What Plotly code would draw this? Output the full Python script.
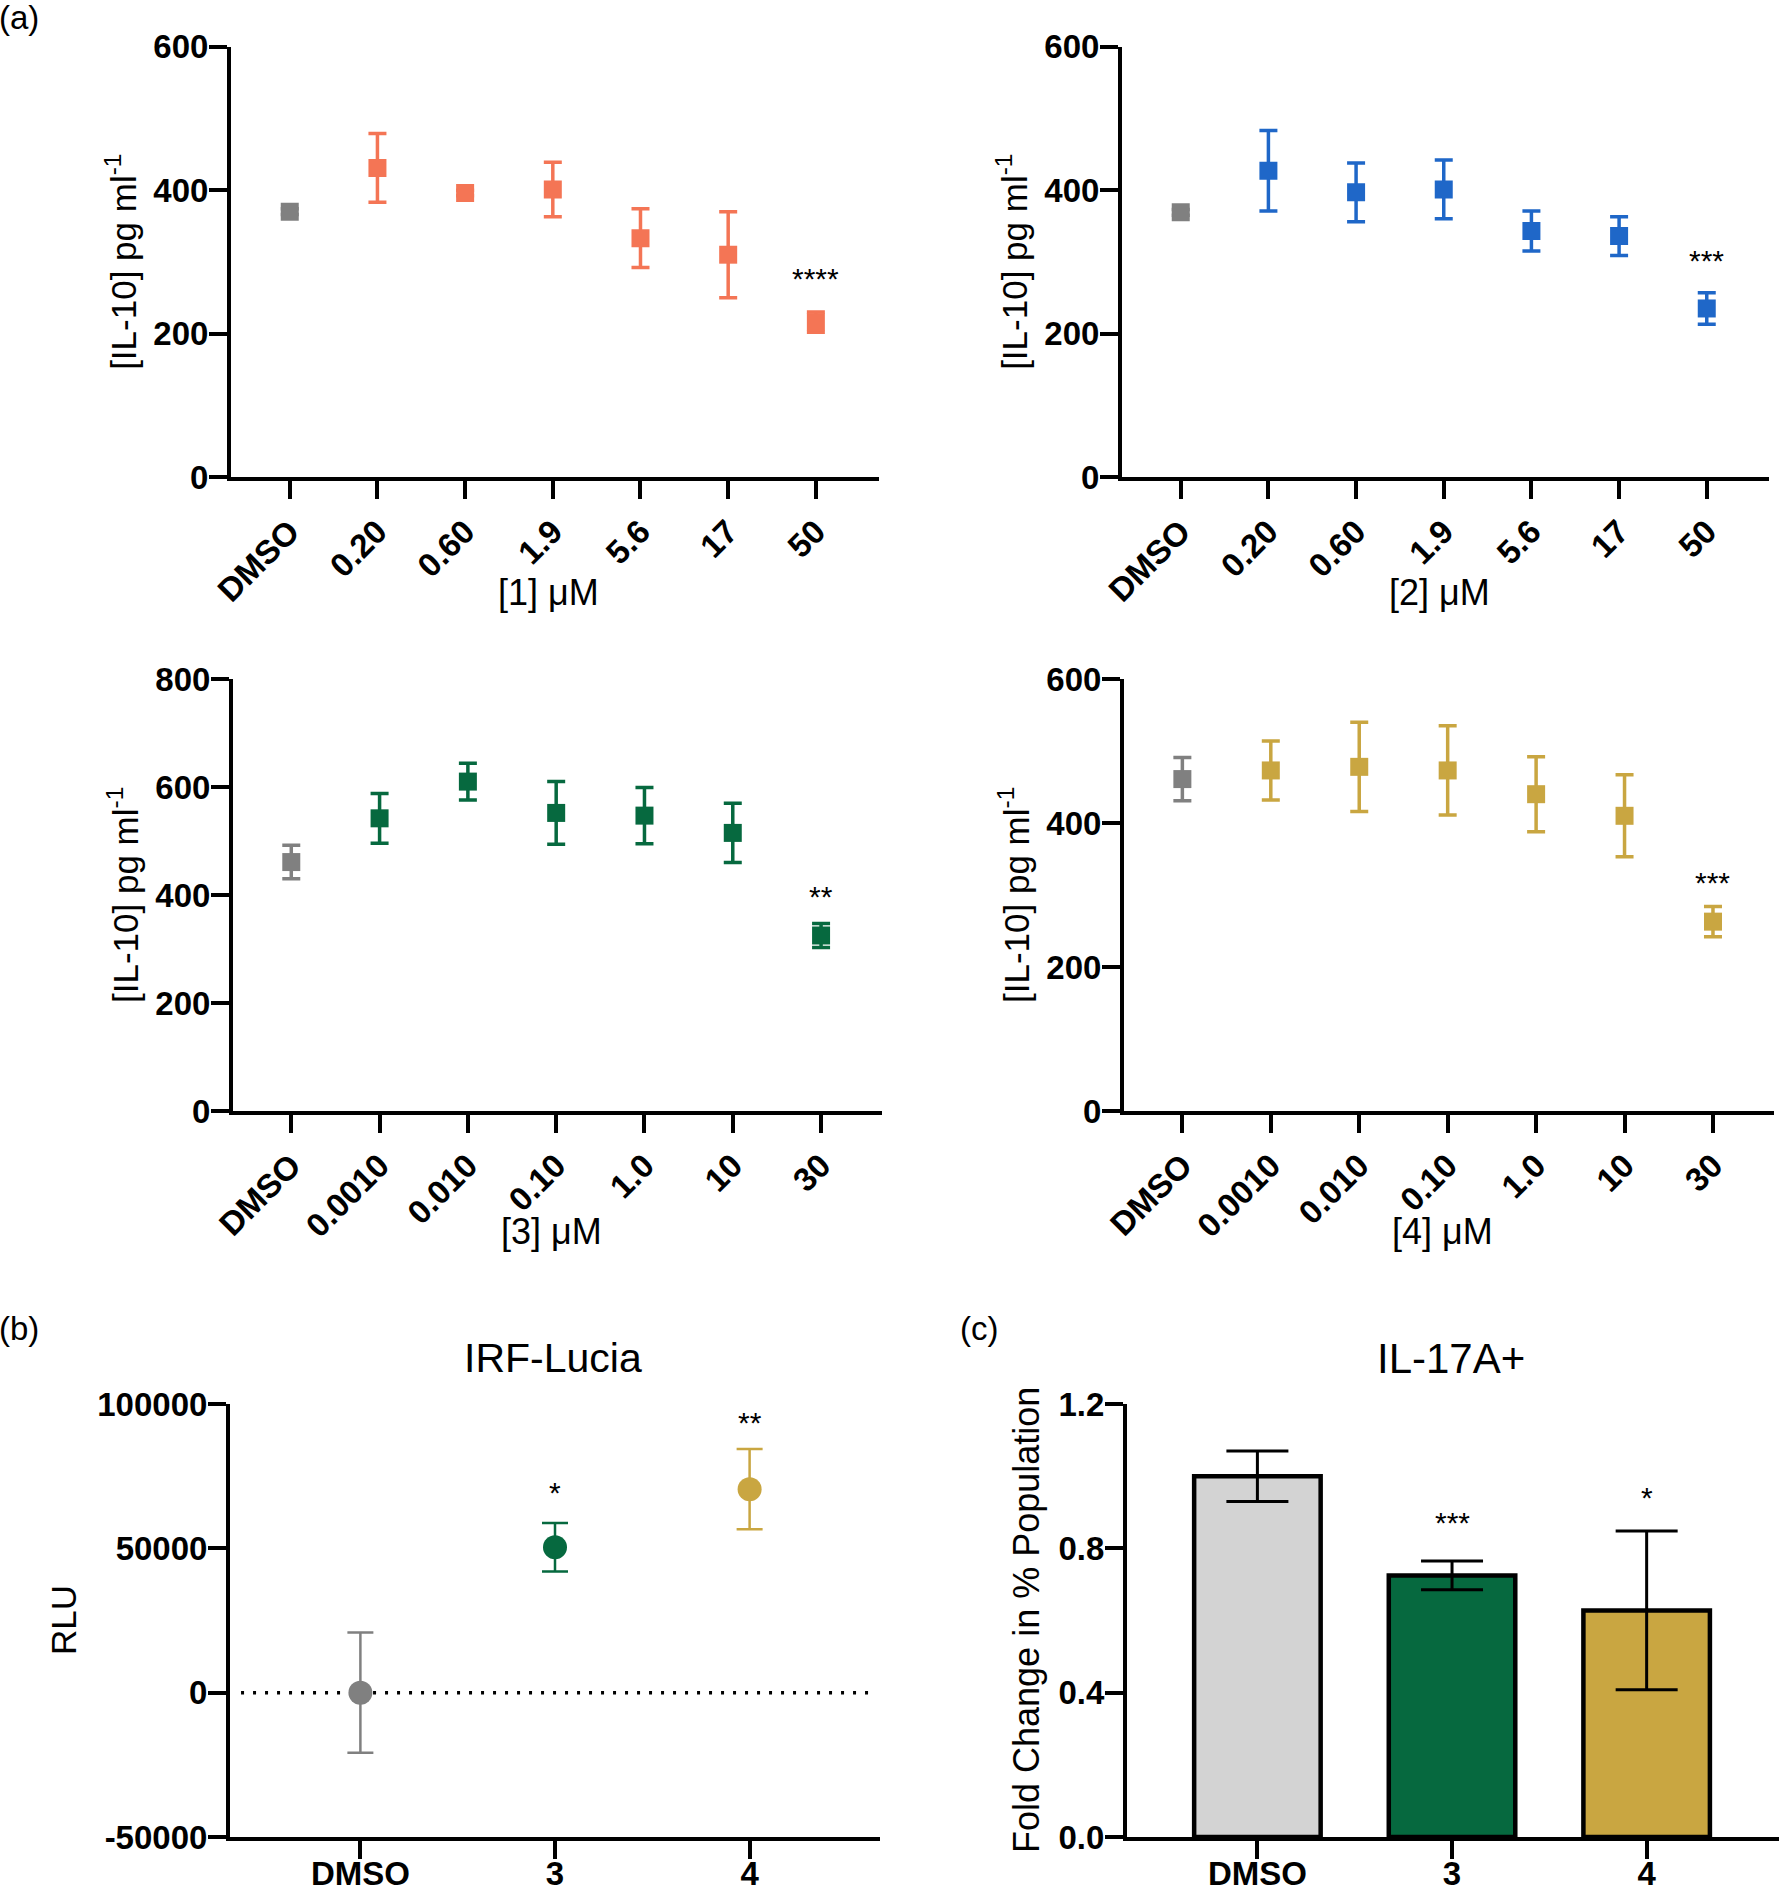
import plotly.graph_objects as go

# ---------------- data ----------------
conc_12 = ["DMSO", "0.20", "0.60", "1.9", "5.6", "17", "50"]
conc_34 = ["DMSO", "0.0010", "0.010", "0.10", "1.0", "10", "30"]

il10_c1 = [370, 431, 396, 401, 333, 310, 216]
il10_c1_err = [4, 48, 4, 38, 41, 60, 14]
il10_c2 = [369, 427, 397, 401, 343, 336, 235]
il10_c2_err = [4, 56, 41, 41, 28, 27, 22]
il10_c3 = [461, 542, 610, 552, 547, 515, 325]
il10_c3_err = [31, 46, 34, 58, 52, 55, 22]
il10_c4 = [461, 473, 478, 473, 440, 410, 263]
il10_c4_err = [30, 41, 62, 62, 52, 57, 21]

sig_a = ["****", "***", "**", "***"]
sig_a_y = [277, 302, 397, 318]

irf_groups = ["DMSO", "3", "4"]
irf_rlu = [0, 50400, 70500]
irf_err = [20800, 8400, 13900]
irf_sig = ["", "*", "**"]
irf_sig_y = [None, 69500, 93500]

il17_groups = ["DMSO", "3", "4"]
il17_fold = [1.0, 0.725, 0.628]
il17_err = [0.07, 0.04, 0.22]
il17_sig = ["", "***", "*"]
il17_sig_y = [None, 0.872, 0.94]

# ---------------- style ----------------
GRAY = "#808080"
CORAL = "#F47555"
BLUE = "#1F67C8"
GREEN = "#06693F"
GOLD = "#C9A641"
LIGHT = "#D3D3D3"
FONT = "Liberation Sans, Arial, sans-serif"

W, H = 1779, 1891


def px_x(p):
    return p / W


def px_y(p):
    return 1 - p / H


fig = go.Figure()

panels_a = [
    (conc_12, il10_c1, il10_c1_err, CORAL, "[1] μM", (231, 879), (46.7, 477), 600, (-0.67, 6.72)),
    (conc_12, il10_c2, il10_c2_err, BLUE, "[2] μM", (1122, 1769), (46.7, 477), 600, (-0.67, 6.71)),
    (conc_34, il10_c3, il10_c3_err, GREEN, "[3] μM", (233, 882), (679, 1111), 800, (-0.66, 6.69)),
    (conc_34, il10_c4, il10_c4_err, GOLD, "[4] μM", (1124, 1774), (679, 1111), 600, (-0.66, 6.69)),
]

axis_common = dict(
    showline=True, linecolor="black", linewidth=4, ticks="outside",
    ticklen=18, tickwidth=4, tickcolor="black", showgrid=False, zeroline=False,
    automargin=False,
    tickfont=dict(family=FONT, size=33, color="black", weight="bold"),
)
yaxis_extra = dict(ticklabelstandoff=-6)


def paper_note(text, x, y, size, angle=0):
    return dict(text=text, xref="paper", yref="paper", x=px_x(x), y=px_y(y),
                textangle=angle, showarrow=False, xanchor="center", yanchor="middle",
                font=dict(family=FONT, size=size, color="black"))


annotations = []
for i, (cats, vals, errs, col, xt, (x0, x1), (yt, yb), ymax, xr) in enumerate(panels_a):
    n = i + 1
    xa = "x" if n == 1 else f"x{n}"
    ya = "y" if n == 1 else f"y{n}"
    fig.add_trace(go.Scatter(
        x=cats[:1], y=vals[:1], xaxis=xa, yaxis=ya, mode="markers",
        marker=dict(symbol="square", size=18, color=GRAY),
        error_y=dict(type="data", array=errs[:1], color=GRAY, thickness=3.5, width=9),
        showlegend=False))
    fig.add_trace(go.Scatter(
        x=cats[1:], y=vals[1:], xaxis=xa, yaxis=ya, mode="markers",
        marker=dict(symbol="square", size=18, color=col),
        error_y=dict(type="data", array=errs[1:], color=col, thickness=3.5, width=9),
        showlegend=False))
    fig.layout[f"xaxis{'' if n == 1 else n}"] = dict(
        axis_common, domain=[px_x(x0), px_x(x1)], anchor=ya, type="category",
        range=list(xr), tickangle=-45)
    fig.layout[f"yaxis{'' if n == 1 else n}"] = dict(
        axis_common, **yaxis_extra, domain=[px_y(yb), px_y(yt)], anchor=xa,
        range=[0, ymax], dtick=200, tick0=0)
    annotations.append(paper_note("[IL-10] pg ml<sup>-1</sup>", x0 - 110, (yt + yb) / 2, 35, -90))
    annotations.append(paper_note(xt, x0 + 0.49 * (x1 - x0), yb + (116 if n <= 2 else 120), 36))
    annotations.append(dict(
        text=sig_a[i], xref=xa, yref=ya, x=len(cats) - 1, y=sig_a_y[i], showarrow=False,
        xanchor="center", yanchor="middle",
        font=dict(family=FONT, size=30, color="black")))

# ---------------- panel b ----------------
irf_cols = [GRAY, GREEN, GOLD]
for g, v, e, c in zip(irf_groups, irf_rlu, irf_err, irf_cols):
    fig.add_trace(go.Scatter(
        x=[g], y=[v], xaxis="x5", yaxis="y5", mode="markers",
        marker=dict(symbol="circle", size=24, color=c),
        error_y=dict(type="data", array=[e], color=c, thickness=2.5, width=13),
        showlegend=False))
fig.layout["xaxis5"] = dict(axis_common, domain=[px_x(230), px_x(880)], anchor="y5",
                            type="category", range=[-0.67, 2.67], ticklabelstandoff=-14)
fig.layout["yaxis5"] = dict(axis_common, **yaxis_extra, domain=[px_y(1837), px_y(1404)],
                            anchor="x5", range=[-50000, 100000],
                            tickvals=[-50000, 0, 50000, 100000],
                            ticktext=["-50000", "0", "50000", "100000"])
fig.add_shape(type="line", xref="x5 domain", yref="y5", x0=0.017, x1=0.985, y0=0, y1=0,
              line=dict(color="black", width=3.5, dash="3px,9px"), layer="below")
for k, (s, sy) in enumerate(zip(irf_sig, irf_sig_y)):
    if s:
        annotations.append(dict(text=s, xref="x5", yref="y5", x=k, y=sy, showarrow=False,
                                xanchor="center", yanchor="middle",
                                font=dict(family=FONT, size=30, color="black")))
annotations.append(paper_note("RLU", 63, 1620, 35, -90))
annotations.append(paper_note("IRF-Lucia", 553, 1358, 41))

# ---------------- panel c ----------------
fig.add_trace(go.Bar(
    x=il17_groups, y=il17_fold, xaxis="x6", yaxis="y6", width=0.65,
    marker=dict(color=[LIGHT, GREEN, GOLD], line=dict(color="black", width=4.5)),
    error_y=dict(type="data", array=il17_err, color="black", thickness=3, width=31),
    showlegend=False))
fig.layout["xaxis6"] = dict(axis_common, domain=[px_x(1127), 1.0], anchor="y6",
                            type="category", range=[-0.67, 2.68], ticklabelstandoff=-14)
fig.layout["yaxis6"] = dict(axis_common, **yaxis_extra, domain=[px_y(1837), px_y(1404)],
                            anchor="x6", range=[0, 1.2], tickvals=[0, 0.4, 0.8, 1.2],
                            tickformat=".1f")
for k, (s, sy) in enumerate(zip(il17_sig, il17_sig_y)):
    if s:
        annotations.append(dict(text=s, xref="x6", yref="y6", x=k, y=sy, showarrow=False,
                                xanchor="center", yanchor="middle",
                                font=dict(family=FONT, size=30, color="black")))
annotations.append(paper_note("Fold Change in % Population", 1026, 1620, 36, -90))
annotations.append(paper_note("IL-17A+", 1451, 1358, 42))

for lab, x, y in [("(a)", 19, 18), ("(b)", 19, 1328), ("(c)", 979, 1328)]:
    annotations.append(paper_note(lab, x, y, 33))

fig.update_layout(
    width=W, height=H, margin=dict(l=0, r=0, t=0, b=0, autoexpand=False),
    paper_bgcolor="white", plot_bgcolor="white",
    annotations=annotations, showlegend=False,
)

fig.write_html("out.html", config={"displayModeBar": False},
               post_script="document.body.style.margin='0px';")
